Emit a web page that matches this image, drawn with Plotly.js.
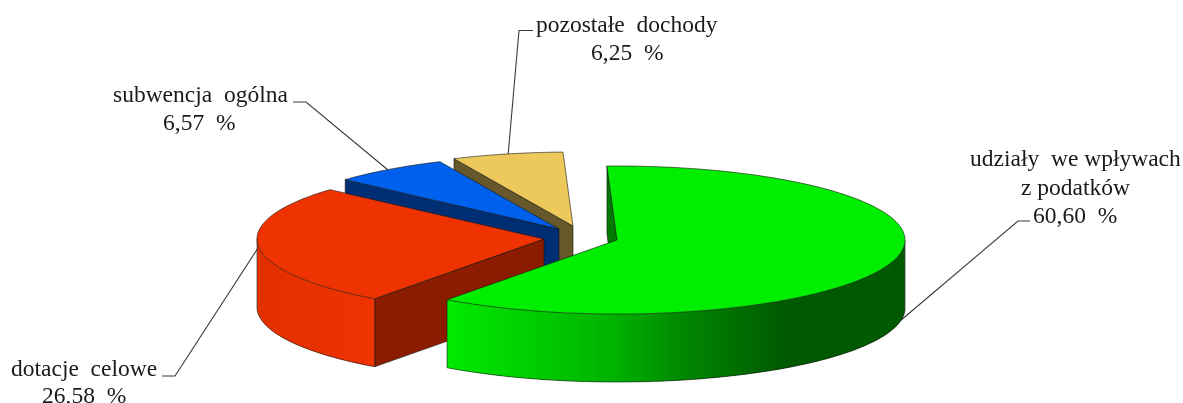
<!DOCTYPE html>
<html><head><meta charset="utf-8">
<script src="https://cdn.plot.ly/plotly-3.0.1.min.js"></script>
<style>html,body{margin:0;padding:0;background:#fff;overflow:hidden}#c{width:1183px;height:403px;filter:blur(0.45px)}</style>
</head><body><div id="c"></div>
<script>
// ---- data ----
const categories = ["udziały we wpływach z podatków", "dotacje celowe", "subwencja ogólna", "pozostałe dochody"];
const values = [60.60, 26.58, 6.57, 6.25];
const valueLabels = ["60,60 %", "26,58 %", "6,57 %", "6,25 %"];

// ---- styles / geometry ----
const topColors = ["#00EE00", "#EE3300", "#0060EE", "#EDC95C"];
const cutColors = ["#007A00", "#8B1C00", "#002E75", "#66582A"];
const rimStops = [
  [[448,[0,238,0]],[540,[0,205,0]],[620,[0,178,0]],[700,[0,130,0]],[790,[0,90,0]],[905,[0,90,0]]],
  [[258,[226,48,0]],[374,[238,50,0]]],
  [[340,[0,46,117]],[460,[0,46,117]]],
  [[450,[102,88,42]],[570,[102,88,42]]]
];
const apexX = [617, 544, 559, 573];
const apexY = [240, 239, 229, 226];
const radiusX = [288, 287, 287, 287];
const radiusY = 74, depth = 68, startAngle = -2;
const drawOrder = [3, 2, 1, 0];
const edge = "rgba(20,20,20,0.85)";

const leaderX = [[1030,1018,900],[162,175,258],[293,306,388],[533,519,508]];
const leaderY = [[221,221,321],[376,376,248],[102,102,170],[30.5,30.5,156]];
const gap = "\u00a0\u00a0";
const textLines = [
  {t:"udziały" + gap + "we\u00a0wpływach", x:1075, y:158},
  {t:"z podatków", x:1075, y:187},
  {t:valueLabels[0].replace(" ", gap), x:1075, y:215},
  {t:"dotacje\u00a0\u00a0celowe", x:83.5, y:368},
  {t:valueLabels[1].replace(" ", gap), x:83.5, y:395},
  {t:"subwencja" + gap + "ogólna", x:200, y:94},
  {t:valueLabels[2].replace(" ", gap), x:199, y:122},
  {t:"pozostałe" + gap + "dochody", x:627, y:24},
  {t:valueLabels[3].replace(" ", gap), x:627, y:52}
];

const rad = d => d * Math.PI / 180;
const total = values.reduce((a, b) => a + b, 0);
let acc = startAngle;
const spans = values.map(v => { const s = acc; acc += v / total * 360; return [s, acc]; });

function poly(xs, ys, fill, line, width) {
  return {type:"scatter", mode:"lines", x:xs, y:ys, fill:"toself", fillcolor:fill,
    line:{color:line, width:width, simplify:false}, hoverinfo:"skip", showlegend:false};
}
function stroke(xs, ys, color, width) {
  return {type:"scatter", mode:"lines", x:xs, y:ys, line:{color:color, width:width, simplify:false},
    hoverinfo:"skip", showlegend:false};
}
function rimColor(i, x) {
  const st = rimStops[i];
  if (x <= st[0][0]) return st[0][1];
  for (let k = 1; k < st.length; k++) if (x <= st[k][0]) {
    const f = (x - st[k-1][0]) / (st[k][0] - st[k-1][0]);
    return st[k-1][1].map((c, j) => Math.round(c + f * (st[k][1][j] - c)));
  }
  return st[st.length-1][1];
}
const traces = [];
leaderX.forEach((lx, i) => traces.push(stroke(lx, leaderY[i], "#3a3a3a", 1.1)));

drawOrder.forEach(i => {
  const [a0, a1] = spans[i], cx = apexX[i], cy = apexY[i], rx = radiusX[i];
  const px = a => cx + rx * Math.sin(rad(a)), py = a => cy - radiusY * Math.cos(rad(a));
  const arc = [];
  const n = Math.ceil((a1 - a0) / 1.0);
  for (let k = 0; k <= n; k++) arc.push(a0 + (a1 - a0) * k / n);

  // cut face seen from the front
  traces.push(poly([px(a0),cx,cx,px(a0),px(a0)],[py(a0),cy,cy+depth,py(a0)+depth,py(a0)],cutColors[i],edge,0.7));

  // outer rim: only the part facing the viewer (90..270 degrees)
  const rim = arc.filter(a => a >= 90 && a <= 270);
  if (rim.length > 1) {
    if (rim[0] > 90 && a0 < 90) rim.unshift(90);
    if (rim[rim.length-1] < Math.min(a1, 270)) rim.push(Math.min(a1, 270));
    for (let k = rim.length - 2; k >= 0; k--) {
      // each strip reaches under the one painted after it, so no seam shows
      const a = rim[k], b = rim[Math.min(k + 2, rim.length - 1)];
      const arcPart = [a, (a + b) / 2, b];
      const c = rimColor(i, px(rim[k])), col = `rgb(${c[0]},${c[1]},${c[2]})`;
      const xs = arcPart.map(px), ys = arcPart.map(py);
      traces.push(poly(
        xs.concat(xs.slice().reverse(), [xs[0]]),
        ys.concat(ys.slice().reverse().map(y => y + depth), [ys[0]]),
        col, col, 0));
    }
    const rx1 = rim.map(px), ry1 = rim.map(a => py(a) + depth);
    traces.push(stroke(rx1, ry1, edge, 0.7));
    traces.push(stroke([px(rim[0]),px(rim[0])],[py(rim[0]),py(rim[0])+depth], edge, 0.7));
    const l = rim[rim.length-1];
    traces.push(stroke([px(l),px(l)],[py(l),py(l)+depth], edge, 0.7));
  }
  // top face
  const tx = [cx].concat(arc.map(px), [cx]);
  const ty = [cy].concat(arc.map(py), [cy]);
  traces.push(poly(tx, ty, topColors[i], edge, 0.7));
});

const annotations = textLines.map(l => ({
  text:l.t, x:l.x, y:l.y, xref:"x", yref:"y", xanchor:"center", yanchor:"middle",
  showarrow:false, font:{family:"Liberation Serif", size:23.5, color:"#1a1a1a"}
}));
const hidden = {visible:false, fixedrange:true};
Plotly.newPlot("c", traces, {
  width:1183, height:403, margin:{l:0,r:0,t:0,b:0},
  paper_bgcolor:"#fff", plot_bgcolor:"#fff", showlegend:false,
  xaxis:Object.assign({range:[0,1183]}, hidden),
  yaxis:Object.assign({range:[403,0]}, hidden),
  annotations
}, {displayModeBar:false, staticPlot:true});
</script></body></html>
